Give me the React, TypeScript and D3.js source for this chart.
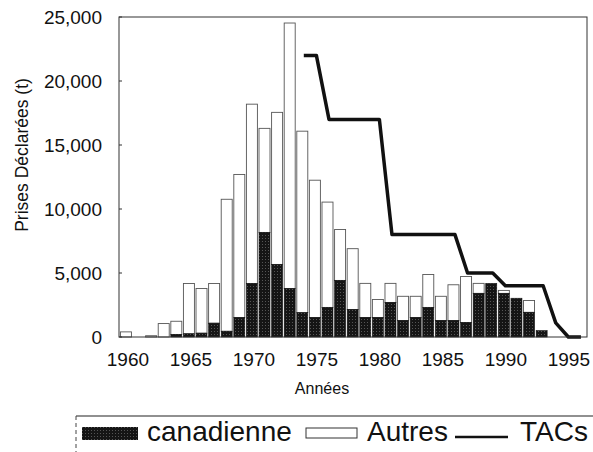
import * as d3 from 'd3';

// reported landings (t) by year
const years = [1960, 1961, 1962, 1963, 1964, 1965, 1966, 1967, 1968, 1969,
    1970, 1971, 1972, 1973, 1974, 1975, 1976, 1977, 1978, 1979,
    1980, 1981, 1982, 1983, 1984, 1985, 1986, 1987, 1988, 1989,
    1990, 1991, 1992, 1993];
const canadienne = [0, 0, 0, 0, 200, 250, 300, 1080, 450, 1520,
    4180, 8170, 5670, 3790, 1900, 1520, 2310, 4420, 2150, 1520,
    1520, 2700, 1290, 1520, 2310, 1290, 1290, 1130, 3410, 4190,
    3410, 3030, 1930, 500];
const autres = [400, 0, 100, 1050, 1030, 3930, 3490, 3100, 10310, 11180,
    14010, 8130, 11880, 20740, 14180, 10730, 8230, 3980, 4750, 2670,
    1410, 1490, 1890, 1660, 2570, 1890, 2790, 3600, 780, 0,
    230, 0, 920, 0];

// total allowable catch
const tacYears = [1974, 1975, 1976, 1977, 1978, 1979, 1980, 1981, 1982, 1983,
    1984, 1985, 1986, 1987, 1988, 1989, 1990, 1991, 1992, 1993, 1994, 1995, 1996];
const tacValues = [22000, 22000, 17000, 17000, 17000, 17000, 17000, 8000, 8000, 8000,
    8000, 8000, 8000, 5000, 5000, 5000, 4000, 4000, 4000, 4000, 1100, 0, 0];

const yTicks = [0, 5000, 10000, 15000, 20000, 25000];
const xTicks = [1960, 1965, 1970, 1975, 1980, 1985, 1990, 1995];

const W = 593, H = 452;
const left = 119, right = 587, top = 17, bottom = 337;
const font = '"Liberation Sans", Arial, Helvetica, sans-serif';

export default function App() {
    const x = d3.scaleLinear().domain([1959.45, 1996.6]).range([left, right]);
    const y = d3.scaleLinear().domain([0, 25000]).range([bottom, top]);
    const bw = 11;
    const fmt = d3.format(',');

    const line = d3.line<number>()
        .x((d, i) => x(tacYears[i]) + 1.5)
        .y(d => y(d));

    return (
        <svg width={W} height={H} style={{ position: 'absolute', left: 0, top: 0, background: '#fff' }}
            fontFamily={font}>
            <defs>
                <pattern id="stip" width="3" height="3" patternUnits="userSpaceOnUse">
                    <rect width="3" height="3" fill="#151515" />
                    <rect x="1" y="1" width="1" height="1" fill="#555" />
                </pattern>
            </defs>

            {/* bars */}
            {years.map((yr, i) => {
                const c = canadienne[i];
                const a = autres[i];
                const x0 = x(yr) - bw / 2;
                return (
                    <g key={yr}>
                        {a > 0 && (
                            <rect x={x0} y={y(c + a)} width={bw} height={y(c) - y(c + a)}
                                fill="#fff" stroke="#555" strokeWidth={0.9} />
                        )}
                        {c > 0 && (
                            <rect x={x0} y={y(c)} width={bw} height={y(0) - y(c)}
                                fill="url(#stip)" stroke="#111" strokeWidth={0.6} />
                        )}
                    </g>
                );
            })}

            {/* TAC line */}
            <path d={line(tacValues) || ''} fill="none" stroke="#111" strokeWidth={3.5}
                strokeLinejoin="round" />

            {/* frame */}
            <rect x={left} y={top} width={right - left} height={bottom - top}
                fill="none" stroke="#333" strokeWidth={1} />

            {yTicks.map(t => (
                <g key={t}>
                    <line x1={left} x2={left + 3} y1={y(t)} y2={y(t)} stroke="#333" />
                    <text x={102} y={y(t)} dy="0.36em" textAnchor="end" fontSize={19}
                        fill="#111">{fmt(t)}</text>
                </g>
            ))}

            {xTicks.map(t => (
                <text key={t} x={x(t) + 2} y={366} textAnchor="middle" fontSize={19}
                    fill="#111">{t}</text>
            ))}

            <text x={322} y={394} textAnchor="middle" fontSize={16} fill="#111">Années</text>
            <text transform="translate(28,155) rotate(-90)" textAnchor="middle" fontSize={17.5}
                fill="#111">Prises Déclarées (t)</text>

            {/* legend */}
            <line x1={76} x2={593} y1={416} y2={416} stroke="#222" strokeWidth={1.2} />
            <line x1={76} x2={76} y1={416} y2={452} stroke="#444" strokeWidth={1}
                strokeDasharray="4 3" />
            <rect x={82} y={427} width={56} height={13} fill="url(#stip)" />
            <text x={147} y={441} fontSize={28} fill="#111">canadienne</text>
            <rect x={306} y={428} width={51} height={10} fill="#fff" stroke="#333" strokeWidth={1} />
            <text x={367} y={441} fontSize={28} fill="#111">Autres</text>
            <line x1={455} x2={508} y1={437} y2={437} stroke="#111" strokeWidth={2.5} />
            <text x={520} y={441} fontSize={28} fill="#111">TACs</text>
        </svg>
    );
}
